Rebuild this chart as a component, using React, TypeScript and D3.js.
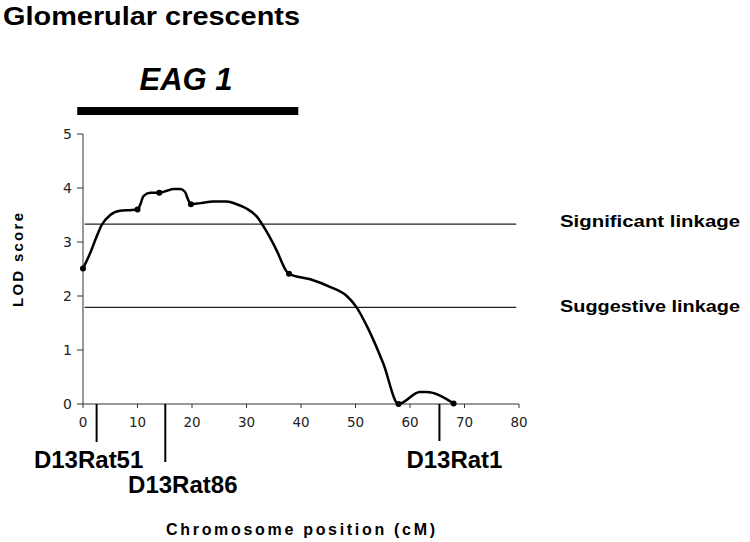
import React from "react";
import * as d3 from "d3";

// ---- data ----
const positions = [0, 1.3, 2.5, 3.4, 5.0, 6.8, 8.6, 10, 10.5, 11.1, 12.3, 14, 15.4, 16.6, 17.8, 18.7, 19.3, 19.8, 21.5, 23.9, 26.4, 28.2, 30, 31.9, 33.7, 35.5, 37.4, 37.8, 41.7, 45.3, 48.4, 50.2, 52.3, 55.1, 57.9, 61.8, 63.0, 68];
const lodScores = [2.51, 2.79, 3.10, 3.31, 3.50, 3.58, 3.59, 3.60, 3.69, 3.85, 3.91, 3.91, 3.95, 3.98, 3.98, 3.93, 3.78, 3.70, 3.72, 3.75, 3.75, 3.70, 3.62, 3.47, 3.19, 2.85, 2.45, 2.41, 2.31, 2.17, 2.00, 1.79, 1.40, 0.75, 0.00, 0.22, 0.22, 0.01];
const markerPositions = [0, 10, 14, 19.8, 37.8, 57.9, 68];
const markerLods = [2.51, 3.60, 3.91, 3.70, 2.41, 0.0, 0.01];
const xTicks = [0, 10, 20, 30, 40, 50, 60, 70, 80];
const yTicks = [0, 1, 2, 3, 4, 5];
const thresholdNames = ["Significant linkage", "Suggestive linkage"];
const thresholdValues = [3.33, 1.79];
const geneticMarkers = ["D13Rat51", "D13Rat86", "D13Rat1"];
const geneticMarkerPos = [2.5, 15.1, 65.4];
const regionName = "EAG 1";
const regionStart = -1.05;
const regionEnd = 39.5;

// ---- layout ----
const W = 750, H = 542;
const x = d3.scaleLinear().domain([0, 80]).range([83, 519]);
const y = d3.scaleLinear().domain([0, 5]).range([404, 134]);
const markerLineBottom = [442, 462, 441];
const markerLabelDx = [-8, 17.5, 15];
const markerLabelY = [468, 493, 468];
const thresholdLabelY = [227, 312];

export default function App() {
  const pts = positions.map((p, i) => [p, lodScores[i]] as [number, number]);
  const line = d3.line<[number, number]>()
    .x(d => x(d[0]))
    .y(d => y(d[1]))
    .curve(d3.curveMonotoneX);
  const sans = "'Liberation Sans', Arial, sans-serif";
  const dv = "'DejaVu Sans', sans-serif";
  return (
    <svg width={W} height={H} style={{ position: "absolute", left: 0, top: 0, background: "#fff" }}>
      <text x={3} y={25} fontFamily={sans} fontWeight="bold" fontSize={26} textLength={297} lengthAdjust="spacingAndGlyphs">Glomerular crescents</text>
      <text x={186} y={90} textAnchor="middle" fontFamily={sans} fontWeight="bold" fontStyle="italic" fontSize={31}>{regionName}</text>
      <rect x={x(regionStart)} y={107} width={x(regionEnd) - x(regionStart)} height={8} fill="#000" />

      {/* axes */}
      <line x1={x(0)} x2={x(0)} y1={y(5)} y2={y(0)} stroke="#333" strokeWidth={1} />
      <line x1={x(0)} x2={x(80)} y1={y(0)} y2={y(0)} stroke="#333" strokeWidth={1} />
      {yTicks.map(t => (
        <g key={"y" + t}>
          <line x1={x(0) - 6} x2={x(0)} y1={y(t)} y2={y(t)} stroke="#333" />
          <text x={72} y={y(t) + 5} textAnchor="end" fontFamily={dv} fontSize={14} fill="#222">{t}</text>
        </g>
      ))}
      {xTicks.map(t => (
        <g key={"x" + t}>
          <line x1={x(t)} x2={x(t)} y1={y(0)} y2={y(0) + 4} stroke="#333" />
          <text x={x(t)} y={427} textAnchor="middle" fontFamily={dv} fontSize={13.5} fill="#222">{t}</text>
        </g>
      ))}

      {/* thresholds */}
      {thresholdValues.map((v, i) => (
        <g key={"t" + i}>
          <line x1={x(0.3)} x2={x(79.5)} y1={y(v)} y2={y(v)} stroke="#222" strokeWidth={1.2} />
          <text x={560} y={thresholdLabelY[i]} fontFamily={sans} fontWeight="bold" fontSize={17} textLength={180} lengthAdjust="spacingAndGlyphs">{thresholdNames[i]}</text>
        </g>
      ))}

      {/* LOD curve */}
      <path d={line(pts) || ""} fill="none" stroke="#000" strokeWidth={2.5} strokeLinejoin="round" />
      {markerPositions.map((p, i) => (
        <circle key={"m" + i} cx={x(p)} cy={y(markerLods[i])} r={3} fill="#000" />
      ))}

      {/* genetic markers */}
      {geneticMarkers.map((name, i) => (
        <g key={name}>
          <line x1={x(geneticMarkerPos[i])} x2={x(geneticMarkerPos[i])} y1={y(0)} y2={markerLineBottom[i]} stroke="#000" strokeWidth={2} />
          <text x={x(geneticMarkerPos[i]) + markerLabelDx[i]} y={markerLabelY[i]} textAnchor="middle" fontFamily={sans} fontWeight="bold" fontSize={24}>{name}</text>
        </g>
      ))}

      {/* axis titles */}
      <text x={300.5} y={535} textAnchor="middle" fontFamily={sans} fontWeight="bold" fontSize={16} textLength={269} lengthAdjust="spacing">Chromosome position (cM)</text>
      <text transform="translate(23,260) rotate(-90)" textAnchor="middle" fontFamily={sans} fontWeight="bold" fontSize={15} textLength={94} lengthAdjust="spacing">LOD score</text>
    </svg>
  );
}
